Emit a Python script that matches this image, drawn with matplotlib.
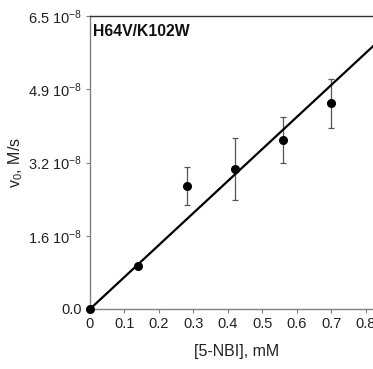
import matplotlib
matplotlib.use("Agg")
import matplotlib.pyplot as plt
import numpy as np

plt.rcParams["font.family"] = ["Liberation Sans", "DejaVu Sans"]
plt.rcParams["mathtext.fontset"] = "custom"
plt.rcParams["mathtext.rm"] = "Liberation Sans"
plt.rcParams["mathtext.it"] = "Liberation Sans:italic"

# Data (y in units of 1e-8 M/s)
conc = [0.0, 0.14, 0.28, 0.42, 0.56, 0.70]
v0 = [0.0, 0.96, 2.73, 3.11, 3.75, 4.56]
v0_err = [0.0, 0.0, 0.42, 0.69, 0.52, 0.54]
slope = 7.1
fit_x = [0.0, 0.9]

yticks = [0.0, 1.625, 3.25, 4.875, 6.5]
ytick_labels = ["0.0", "1.6 10$^{-8}$", "3.2 10$^{-8}$", "4.9 10$^{-8}$", "6.5 10$^{-8}$"]
xticks = [0, 0.1, 0.2, 0.3, 0.4, 0.5, 0.6, 0.7, 0.8]
xtick_labels = ["0", "0.1", "0.2", "0.3", "0.4", "0.5", "0.6", "0.7", "0.8"]

fig = plt.figure(figsize=(3.73, 3.69), dpi=100)
fig.patch.set_facecolor("white")
ax = fig.add_axes([90 / 373, 60 / 369, 293 / 373, 293 / 369])

fit_y = [slope * x for x in fit_x]
ax.plot(fit_x, fit_y, color="black", lw=1.6, zorder=2)

ax.errorbar(
    conc[2:], v0[2:], yerr=v0_err[2:], fmt="none",
    ecolor="#555555", elinewidth=0.9, capsize=2.5, capthick=0.9, zorder=1,
)
ax.plot(conc, v0, "o", color="black", markersize=5.5, clip_on=False, zorder=3)

ax.set_xlim(0, 0.85)
ax.set_ylim(0, 6.5)
ax.set_xticks(xticks)
ax.set_xticklabels(xtick_labels)
ax.set_yticks(yticks)
ax.set_yticklabels(ytick_labels)

for side in ["left", "bottom"]:
    ax.spines[side].set_color("#808080")
    ax.spines[side].set_linewidth(1.0)
ax.spines["top"].set_color("#333333")
ax.spines["top"].set_linewidth(1.0)
ax.spines["right"].set_visible(False)

ax.tick_params(axis="both", direction="out", length=3, width=0.8,
               color="#808080", labelsize=10.5, labelcolor="#222222", pad=3)

ax.set_xlabel("[5-NBI], mM", fontsize=11.5, color="#222222", labelpad=9)
ax.set_ylabel("v$_0$, M/s", fontsize=11.5, color="#222222", labelpad=2)

ax.text(0.01, 6.33, "H64V/K102W", fontsize=11.3, fontweight="bold",
        va="top", ha="left", color="#111111")

plt.savefig("out.png", dpi=100)
